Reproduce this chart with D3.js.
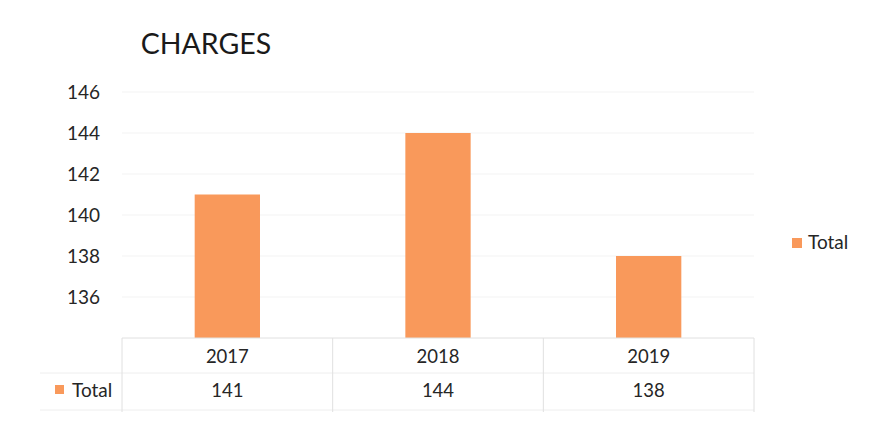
<!DOCTYPE html>
<html><head><meta charset="utf-8">
<script src="https://cdn.jsdelivr.net/npm/d3@7"></script>
<style>body{margin:0;background:#fff;}svg{display:block;font-family:Lato,"Open Sans",sans-serif;}</style>
</head><body>
<svg id="c" width="874" height="423"></svg>
<script>
const title = "CHARGES";
const categories = ["2017", "2018", "2019"];
const seriesName = "Total";
const values = [141, 144, 138];
const yTicks = [136, 138, 140, 142, 144, 146];
const yDomain = [134, 146];

const svg = d3.select("#c");
const plot = {left: 122, right: 754, top: 92, bottom: 338};
const color = "#F9995B";
const textColor = "#262626";

const x = d3.scaleBand().domain(categories).range([plot.left, plot.right]).paddingInner(0.69).paddingOuter(0.345);
const y = d3.scaleLinear().domain(yDomain).range([plot.bottom, plot.top]);

// title
svg.append("text").attr("x", 206).attr("y", 54).attr("text-anchor", "middle")
  .attr("font-size", 28.5).attr("fill", "#1a1a1a").text(title);

// gridlines
svg.append("g").selectAll("line").data(yTicks).join("line")
  .attr("x1", plot.left).attr("x2", plot.right)
  .attr("y1", d => y(d)).attr("y2", d => y(d))
  .attr("stroke", "#f3f3f3").attr("stroke-width", 1);

// y axis labels
const yAxis = d3.axisLeft(y).tickValues(yTicks).tickSize(0).tickPadding(0).tickFormat(d3.format("d"));
const gy = svg.append("g").attr("transform", `translate(100,0)`).call(yAxis);
gy.select(".domain").remove();
gy.selectAll("text").attr("font-size", 19).attr("fill", textColor).attr("font-family", "Lato,'Open Sans',sans-serif");

// bars
svg.append("g").selectAll("rect").data(values).join("rect")
  .attr("x", (d, i) => x(categories[i]))
  .attr("width", x.bandwidth())
  .attr("y", d => y(d))
  .attr("height", d => y(yDomain[0]) - y(d))
  .attr("fill", color);

// data table
const tbl = svg.append("g");
const lineColor = "#e0e0e0";
const row1 = 373, row2 = 410;
tbl.append("line").attr("x1", plot.left).attr("x2", plot.right).attr("y1", plot.bottom).attr("y2", plot.bottom).attr("stroke", lineColor);
tbl.append("line").attr("x1", 40).attr("x2", plot.right).attr("y1", row1).attr("y2", row1).attr("stroke", "#eeeeee");
tbl.append("line").attr("x1", 40).attr("x2", plot.right).attr("y1", row2).attr("y2", row2).attr("stroke", "#eeeeee");
const bounds = [plot.left].concat(categories.map(c => x(c) - x.step() * x.paddingInner() / 2 + x.step()));
tbl.selectAll("line.v").data(bounds).join("line").attr("class", "v")
  .attr("x1", d => d).attr("x2", d => d).attr("y1", plot.bottom).attr("y2", row2 + 2)
  .attr("stroke", lineColor);

const xAxis = d3.axisBottom(x).tickSize(0).tickPadding(0);
const gx = svg.append("g").attr("transform", `translate(0,${plot.bottom + 25})`).call(xAxis);
gx.select(".domain").remove();
gx.selectAll("text").attr("dy", 0).attr("font-size", 18.5).attr("fill", textColor).attr("font-family", "Lato,'Open Sans',sans-serif");

tbl.selectAll("text.val").data(values).join("text").attr("class", "val")
  .attr("x", (d, i) => x(categories[i]) + x.bandwidth() / 2)
  .attr("y", 397).attr("text-anchor", "middle")
  .attr("font-size", 18.5).attr("fill", textColor).text(d => d);

tbl.append("rect").attr("x", 55).attr("y", 385).attr("width", 9).attr("height", 9).attr("fill", color);
tbl.append("text").attr("x", 72).attr("y", 397).attr("font-size", 19).attr("fill", textColor).text(seriesName);

// legend
const lg = svg.append("g");
lg.append("rect").attr("x", 792).attr("y", 238).attr("width", 10).attr("height", 10).attr("fill", color);
lg.append("text").attr("x", 808).attr("y", 249).attr("font-size", 19).attr("fill", textColor).text(seriesName);
</script>
</body></html>
